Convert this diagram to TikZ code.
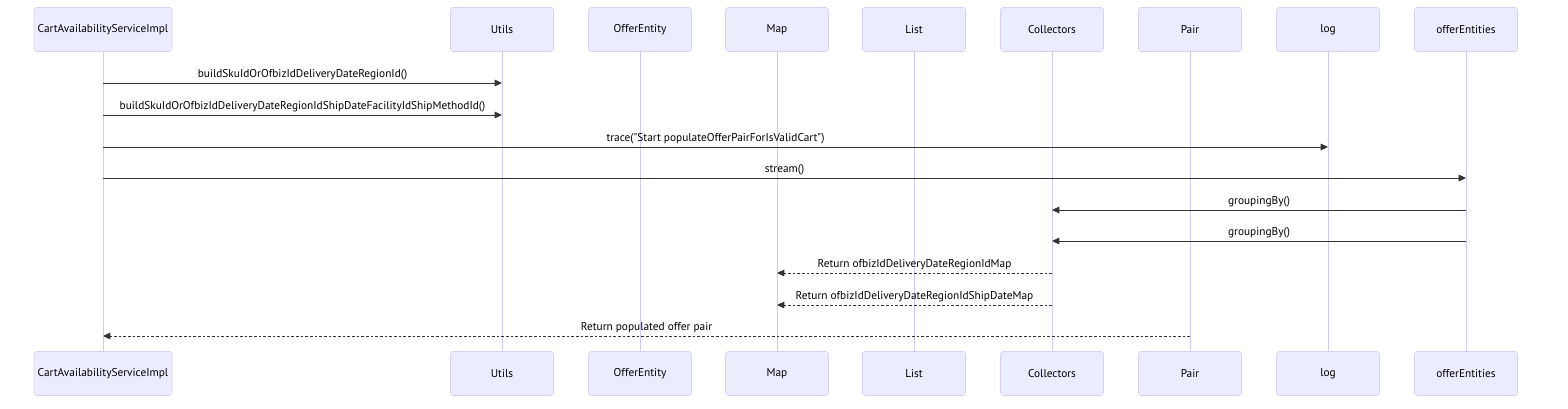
\documentclass[tikz,border=0pt]{standalone}
\usepackage{fontspec}
\setmainfont{PT Sans}[Ligatures=TeXOff]
\usetikzlibrary{arrows.meta}

\definecolor{actfill}{HTML}{ECECFF}
\definecolor{actedge}{HTML}{D9CFF4}
\definecolor{lifecol}{HTML}{D3C9F3}
\definecolor{msgcol}{HTML}{333333}

\tikzset{
  actor/.style={draw=actedge,fill=actfill,rounded corners=2pt,minimum height=33pt,inner sep=2pt},
  life/.style={draw=lifecol,line width=0.75pt},
  msg/.style={draw=msgcol,line width=0.75pt,-{Triangle[length=5.5pt,width=5pt]}},
  ret/.style={msg,dash pattern=on 2pt off 1.5pt},
}

\begin{document}
\begin{tikzpicture}[x=0.75pt,y=-0.75pt,font=\fontsize{8.5}{10}\selectfont]
\useasboundingbox (0,0) rectangle (1568,408);
% participants, top and bottom
\foreach \x/\n/\w/\s in {103/cart/103.5/CartAvailabilityServiceImpl,502/utils/77.25/Utils,
  640/offer/77.25/OfferEntity,777/map/77.25/Map,914/list/77.25/List,1052/coll/77.25/Collectors,
  1190/pair/77.25/Pair,1328/log/77.25/log,1466/ents/77.25/offerEntities}{
  \node[actor,minimum width=\w pt] (\n-t) at (\x,29.5) {\s};
  \node[actor,minimum width=\w pt] (\n-b) at (\x,373.5) {\s};
  \draw[life] (\n-t) -- (\n-b);
}
% calls
\foreach \a/\b/\y/\s in {cart/utils/83/{buildSkuIdOrOfbizIdDeliveryDateRegionId()},
  cart/utils/115/{buildSkuIdOrOfbizIdDeliveryDateRegionIdShipDateFacilityIdShipMethodId()},
  cart/log/147/{trace("Start populateOfferPairForIsValidCart")},
  cart/ents/178/{stream()},
  ents/coll/210/{groupingBy()},
  ents/coll/241/{groupingBy()}}{
  \coordinate (m\y) at (0,\y);
  \draw[msg] (\a-t |- m\y) -- (\b-t |- m\y) node[midway,above=-1.5pt,text=black] {\s};
}
% returns
\foreach \a/\b/\y/\s in {coll/map/273/{Return ofbizIdDeliveryDateRegionIdMap},
  coll/map/305/{Return ofbizIdDeliveryDateRegionIdShipDateMap},
  pair/cart/336/{Return populated offer pair}}{
  \coordinate (r\y) at (0,\y);
  \draw[ret] (\a-t |- r\y) -- (\b-t |- r\y) node[midway,above=-1.5pt,text=black] {\s};
}
\end{tikzpicture}
\end{document}
